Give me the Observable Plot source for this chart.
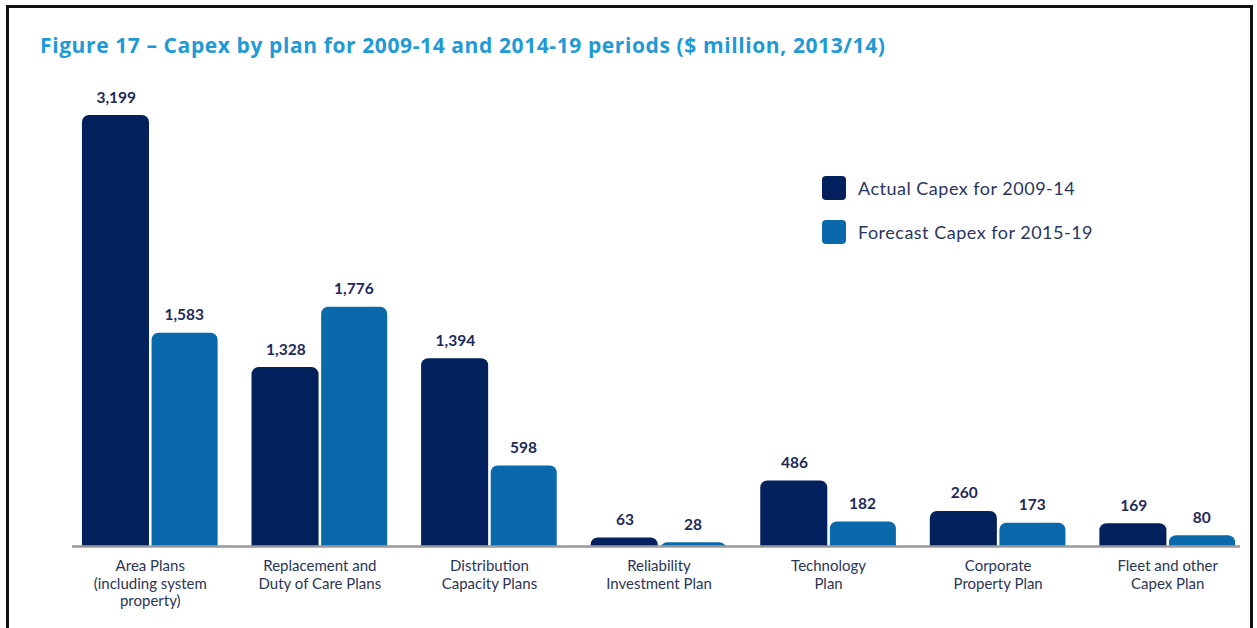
<!DOCTYPE html>
<html>
<head>
<meta charset="utf-8">
<script src="https://cdn.jsdelivr.net/npm/d3@7"></script>
<script src="https://cdn.jsdelivr.net/npm/@observablehq/plot@0.6"></script>
<style>
  html, body { margin: 0; padding: 0; background: #fff; }
  #wrap { position: relative; width: 1257px; height: 628px; overflow: hidden; font-family: Lato, "Open Sans", sans-serif; }
  #frame { position: absolute; left: 6px; top: 5px; right: 4px; height: 640px; border: 3px solid #111; border-bottom: none; box-sizing: border-box; pointer-events: none; }
  #title { height: 70px; box-sizing: border-box; padding: 32px 0 0 40px; font-family: "Open Sans", Lato, sans-serif; font-weight: 700; font-size: 21px; letter-spacing: 0.6px; color: #1e9ad6; line-height: 26px; white-space: nowrap; }
  #legend { position: absolute; left: 822px; top: 176px; }
  .item { display: flex; align-items: center; height: 24px; margin-bottom: 20px; font-size: 18px; letter-spacing: 0.5px; color: #2a3561; }
  .sw { width: 24px; height: 24px; border-radius: 4px; margin-right: 12px; }
  svg { display: block; }
</style>
</head>
<body>
<div id="wrap">
  <div id="title">Figure 17 – Capex by plan for 2009-14 and 2014-19 periods ($ million, 2013/14)</div>
  <div id="chart"></div>
  <div id="legend"></div>
  <div id="frame"></div>
</div>
<script>
const categories = [
  "Area Plans (including system property)",
  "Replacement and Duty of Care Plans",
  "Distribution Capacity Plans",
  "Reliability Investment Plan",
  "Technology Plan",
  "Corporate Property Plan",
  "Fleet and other Capex Plan"
];
const tickLabels = [
  "Area Plans\n(including system\nproperty)",
  "Replacement and\nDuty of Care Plans",
  "Distribution\nCapacity Plans",
  "Reliability\nInvestment Plan",
  "Technology\nPlan",
  "Corporate\nProperty Plan",
  "Fleet and other\nCapex Plan"
];
const series = ["Actual Capex for 2009-14", "Forecast Capex for 2015-19"];
const actual = [3199, 1328, 1394, 63, 486, 260, 169];
const forecast = [1583, 1776, 598, 28, 182, 173, 80];
const colors = ["#03215d", "#0a69ab"];

const rows = [];
categories.forEach((c, i) => {
  rows.push({category: c, series: series[0], value: actual[i]});
  rows.push({category: c, series: series[1], value: forecast[i]});
});
const a = rows.filter(d => d.series === series[0]);
const f = rows.filter(d => d.series === series[1]);
const fmt = d3.format(",");
const labelMap = new Map(categories.map((c, i) => [c, tickLabels[i]]));

const chart = Plot.plot({
  width: 1257,
  height: 558,
  marginTop: 45,
  marginBottom: 82,
  marginLeft: 72,
  marginRight: 17,
  style: {fontFamily: "Lato, 'Open Sans', sans-serif", background: "transparent"},
  x: {type: "band", domain: categories, paddingInner: 0.2, paddingOuter: 0.044, align: 0.667, round: false},
  y: {domain: [0, 3199], axis: null},
  color: {domain: series, range: colors},
  marks: [
    Plot.barY(a, {x: "category", y: "value", fill: "series", insetLeft: 0, insetRight: 68.6, insetBottom: -10, rx: 7, clip: true}),
    Plot.barY(f, {x: "category", y: "value", fill: "series", insetLeft: 69.6, insetRight: 0, insetBottom: -10, rx: 7, clip: true}),
    Plot.ruleY([0], {stroke: "#9a9a9a", strokeWidth: 2.5}),
    Plot.text(a, {x: "category", y: "value", text: d => fmt(d.value), dx: -34, dy: -13, lineAnchor: "bottom", fontSize: 15.5, fontWeight: 700, fill: "#1c2a5a"}),
    Plot.text(f, {x: "category", y: "value", text: d => fmt(d.value), dx: 34, dy: -13, lineAnchor: "bottom", fontSize: 15.5, fontWeight: 700, fill: "#1c2a5a"}),
    Plot.axisX({tickSize: 0, tickPadding: 12, fontSize: 15, lineHeight: 1.17, fill: "#2b3556", tickFormat: d => labelMap.get(d), label: null})
  ]
});
document.getElementById("chart").appendChild(chart);

const legend = document.getElementById("legend");
series.forEach((s, i) => {
  const item = document.createElement("div");
  item.className = "item";
  const sw = document.createElement("div");
  sw.className = "sw";
  sw.style.background = colors[i];
  const t = document.createElement("span");
  t.textContent = s;
  item.appendChild(sw);
  item.appendChild(t);
  legend.appendChild(item);
});
</script>
</body>
</html>
